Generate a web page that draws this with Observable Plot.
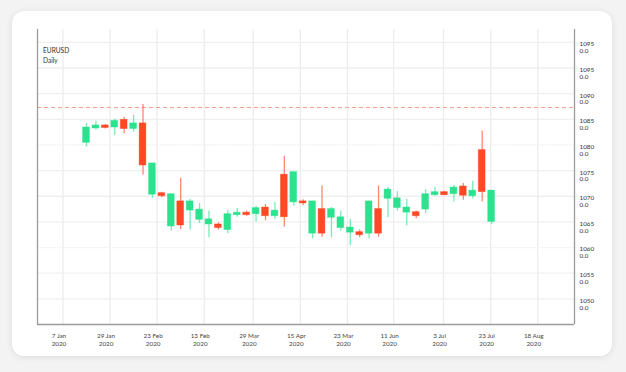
<!DOCTYPE html>
<html>
<head>
<meta charset="utf-8">
<script src="https://cdn.jsdelivr.net/npm/d3@7"></script>
<script src="https://cdn.jsdelivr.net/npm/@observablehq/plot@0.6"></script>
<style>
  html, body { margin: 0; padding: 0; background: #f3f3f4; width: 626px; height: 372px; overflow: hidden; }
  #card { position: absolute; left: 12px; top: 11px; width: 600px; height: 345px; background: #fff; border-radius: 12px; box-shadow: 0 1px 6px rgba(0,0,0,0.10); }
  #chart { position: absolute; left: 0; top: 0; }
  #title { position: absolute; left: 43px; top: 46px; font-family: Lato, sans-serif; font-size: 6.6px; line-height: 9.5px; color: #333; }
</style>
</head>
<body>
<div id="card"></div>
<div id="chart"></div>
<div id="title">EURUSD<br>Daily</div>
<script>
// Candle values
const open  = [1080.4,1083.2,1083.8,1083.4,1084.9,1083.1,1084.2,1070.3,1070.6,1064.1,1069.0,1067.2,1065.4,1064.5,1064.5,1063.4,1066.3,1066.8,1066.5,1067.8,1066.1,1074.2,1068.8,1069.0,1062.7,1067.5,1065.8,1063.8,1062.9,1063.0,1062.7,1067.5,1069.5,1067.7,1066.8,1066.9,1067.4,1070.2,1070.8,1070.4,1071.9,1070.0,1079.0,1065.0];
const close = [1083.4,1083.8,1083.3,1084.7,1083.1,1084.2,1076.0,1076.4,1070.0,1070.4,1064.3,1069.0,1067.4,1065.5,1063.8,1066.5,1066.8,1066.3,1067.7,1066.1,1067.2,1065.9,1074.7,1068.6,1069.0,1062.7,1067.5,1065.9,1063.9,1062.4,1069.0,1062.7,1071.3,1069.6,1067.8,1066.1,1070.4,1070.8,1070.2,1071.7,1070.1,1071.1,1070.8,1071.1];
const high  = [1084.2,1084.6,1084.0,1085.0,1085.4,1085.8,1087.9,1076.4,1070.8,1070.4,1073.5,1069.4,1068.6,1067.1,1064.8,1067.2,1067.6,1067.1,1068.0,1068.4,1068.8,1077.8,1074.7,1069.3,1069.0,1072.0,1067.8,1067.1,1065.5,1063.4,1069.0,1072.0,1071.7,1070.9,1069.4,1067.1,1071.3,1071.7,1071.0,1072.1,1072.5,1072.9,1082.7,1071.1];
const low   = [1079.6,1082.9,1083.1,1081.9,1082.2,1082.5,1074.1,1069.6,1069.7,1063.2,1063.5,1063.4,1064.7,1061.9,1063.4,1062.7,1065.9,1066.1,1065.0,1065.2,1065.5,1064.0,1068.1,1068.2,1061.7,1062.0,1061.9,1063.2,1060.4,1061.9,1061.7,1062.0,1065.8,1067.1,1064.2,1065.6,1066.6,1070.0,1070.1,1068.9,1069.2,1069.5,1068.9,1064.5];

// X tick positions (in candle index units) and labels
const xTickPos = [-1.5, 3.5, 8.5, 13.5, 18.7, 23.7, 28.7, 33.6, 38.9, 43.9, 48.9];
const xTickLabels = ["7 Jan","29 Jan","23 Feb","13 Feb","29 Mar","15 Apr","23 Mar","11 Jun","3 Jul","23 Jul","18 Aug"];
const xTickYear = "2020";

// Y tick values and labels
const yTickValues = [1100,1095,1090,1085,1080,1075,1070,1065,1060,1055,1050];
const yTickLabels = ["1095","1095","1090","1085","1080","1075","1070","1065","1060","1055","1050"];
const yTickSub = "0.0";

const refLevel = 1087.3;
const xDomain = [-4.2, 52.8];
const yDomain = [1045, 1102.5];

const UP = "#2be28e", DOWN = "#ff4824";

const candles = open.map((o, k) => ({i: k + 1, open: o, close: close[k], high: high[k], low: low[k], up: close[k] >= o}));
const xt = xTickPos.map((p, k) => ({p, label: xTickLabels[k] + "\n" + xTickYear}));
const yt = yTickValues.map((v, k) => ({v, label: yTickLabels[k] + "\n" + yTickSub}));
const solidGrid = yTickValues.filter(v => v !== 1080 && v !== 1060);
const dottedGrid = yTickValues.filter(v => v === 1080 || v === 1060);

const chart = Plot.plot({
  width: 626,
  height: 372,
  marginLeft: 37,
  marginRight: 52,
  marginTop: 29,
  marginBottom: 48,
  x: {domain: xDomain, axis: null},
  y: {domain: yDomain, axis: null},
  style: {background: "transparent", fontFamily: "Lato, sans-serif"},
  marks: [
    Plot.ruleX(xTickPos, {stroke: "#ececec", strokeWidth: 1.3}),
    Plot.ruleY(solidGrid, {stroke: "#efefef", strokeWidth: 1.3}),
    Plot.ruleY(dottedGrid, {stroke: "#efefef", strokeWidth: 1.3, strokeDasharray: "1.5,1"}),
    Plot.ruleY([refLevel], {stroke: "#f7a08a", strokeWidth: 1, strokeDasharray: "4,3"}),
    Plot.ruleX(candles, {x: "i", y1: "low", y2: "high", stroke: d => d.up ? UP : DOWN, strokeOpacity: 0.65, strokeWidth: 1.3}),
    Plot.rect(candles, {x1: d => d.i - 0.36, x2: d => d.i + 0.36, y1: "open", y2: "close", fill: d => d.up ? UP : DOWN, stroke: d => d.up ? UP : DOWN, strokeOpacity: 0.5, strokeWidth: 0.8}),
    Plot.ruleX([xDomain[0], xDomain[1]], {stroke: "#9a9a9a", strokeWidth: 1.3}),
    Plot.ruleY([yDomain[0]], {stroke: "#9a9a9a", strokeWidth: 1.3}),
    Plot.text(xt, {x: "p", y: yDomain[0], text: "label", dx: -4, dy: 7, lineAnchor: "top", fontSize: 6.3, fill: "#444", lineHeight: 1.35}),
    Plot.text(yt, {x: xDomain[1], y: "v", text: "label", dx: 5, dy: -1, textAnchor: "start", lineAnchor: "top", fontSize: 6.3, fill: "#333", lineHeight: 1.1})
  ]
});
document.getElementById("chart").appendChild(chart);
</script>
</body>
</html>
